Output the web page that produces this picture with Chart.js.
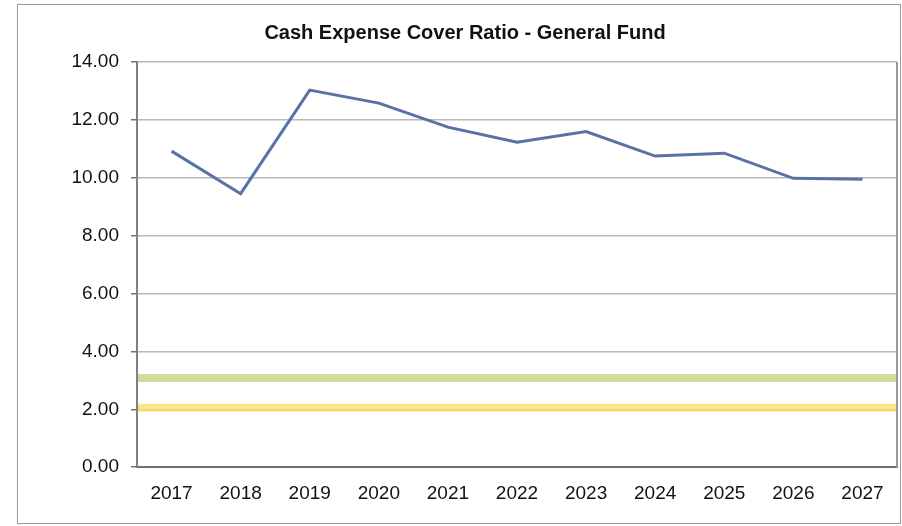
<!DOCTYPE html>
<html>
<head>
<meta charset="utf-8">
<script src="https://cdn.jsdelivr.net/npm/chart.js@4/dist/chart.umd.min.js"></script>
<style>
  html, body { margin: 0; padding: 0; background: #fff; }
  #frame {
    position: absolute; left: 17px; top: 4px;
    width: 882px; height: 518px;
    border: 1px solid #9a9a9a;
  }
  canvas { display: block; }
</style>
</head>
<body>
<div id="frame"><canvas id="ratioChart" width="882" height="518"></canvas></div>
<script>
const years = ['2017', '2018', '2019', '2020', '2021', '2022', '2023', '2024', '2025', '2026', '2027'];
const coverRatio = [10.92, 9.45, 13.03, 12.58, 11.75, 11.23, 11.6, 10.75, 10.85, 9.98, 9.95];
const benchmarkValues = [3.08, 2.05];
const benchmarkColours = ['rgba(190, 210, 120, 0.75)', 'rgba(250, 222, 100, 0.75)'];

// thick horizontal benchmark bands across the plot area, plus the right edge of the plot box
const benchmarkBands = {
    id: 'benchmarkBands',
    beforeDatasetsDraw(chart) {
        const { ctx, chartArea, scales } = chart;
        ctx.save();
        benchmarkValues.forEach(function(v, i) {
            const y = scales.y.getPixelForValue(v);
            ctx.strokeStyle = benchmarkColours[i];
            ctx.lineWidth = 8;
            ctx.beginPath();
            ctx.moveTo(chartArea.left + 1, y);
            ctx.lineTo(chartArea.right - 1, y);
            ctx.stroke();
        });
        ctx.strokeStyle = '#9a9a9a';
        ctx.lineWidth = 2;
        ctx.beginPath();
        ctx.moveTo(chartArea.right, chartArea.top);
        ctx.lineTo(chartArea.right, chartArea.bottom);
        ctx.stroke();
        ctx.restore();
    }
};

document.addEventListener('DOMContentLoaded', function() {
    const ctx = document.getElementById('ratioChart').getContext('2d');
    new Chart(ctx, {
        type: 'line',
        data: {
            labels: years,
            datasets: [{
                label: 'Cash Expense Cover Ratio',
                data: coverRatio,
                borderColor: '#5872a4',
                borderWidth: 3,
                pointRadius: 0,
                tension: 0
            }]
        },
        options: {
            responsive: false,
            animation: false,
            layout: { padding: { left: 15, right: 3, top: 4, bottom: 7 } },
            plugins: {
                legend: { display: false },
                tooltip: { enabled: false },
                title: {
                    display: true,
                    text: 'Cash Expense Cover Ratio - General Fund',
                    color: '#111',
                    font: { family: 'Liberation Sans, Arial, sans-serif', size: 20, weight: 'bold' },
                    padding: { top: 12, bottom: 17 }
                }
            },
            scales: {
                x: {
                    offset: true,
                    grid: { display: false, drawTicks: true, tickLength: 4 },
                    border: { color: '#707070', width: 2 },
                    ticks: {
                        color: '#111',
                        padding: 11,
                        maxRotation: 0,
                        font: { family: 'Liberation Sans, Arial, sans-serif', size: 19 }
                    }
                },
                y: {
                    min: 0,
                    max: 14,
                    afterFit: function(scale) { scale.width = 104; },
                    grid: { color: '#b8b8b8', lineWidth: 1.5, tickLength: 6, tickColor: '#707070' },
                    border: { color: '#808080', width: 2 },
                    ticks: {
                        stepSize: 2,
                        color: '#111',
                        padding: 12,
                        font: { family: 'Liberation Sans, Arial, sans-serif', size: 19 },
                        callback: function(v) { return v.toFixed(2); }
                    }
                }
            }
        },
        plugins: [benchmarkBands]
    });
});
</script>
</body>
</html>
